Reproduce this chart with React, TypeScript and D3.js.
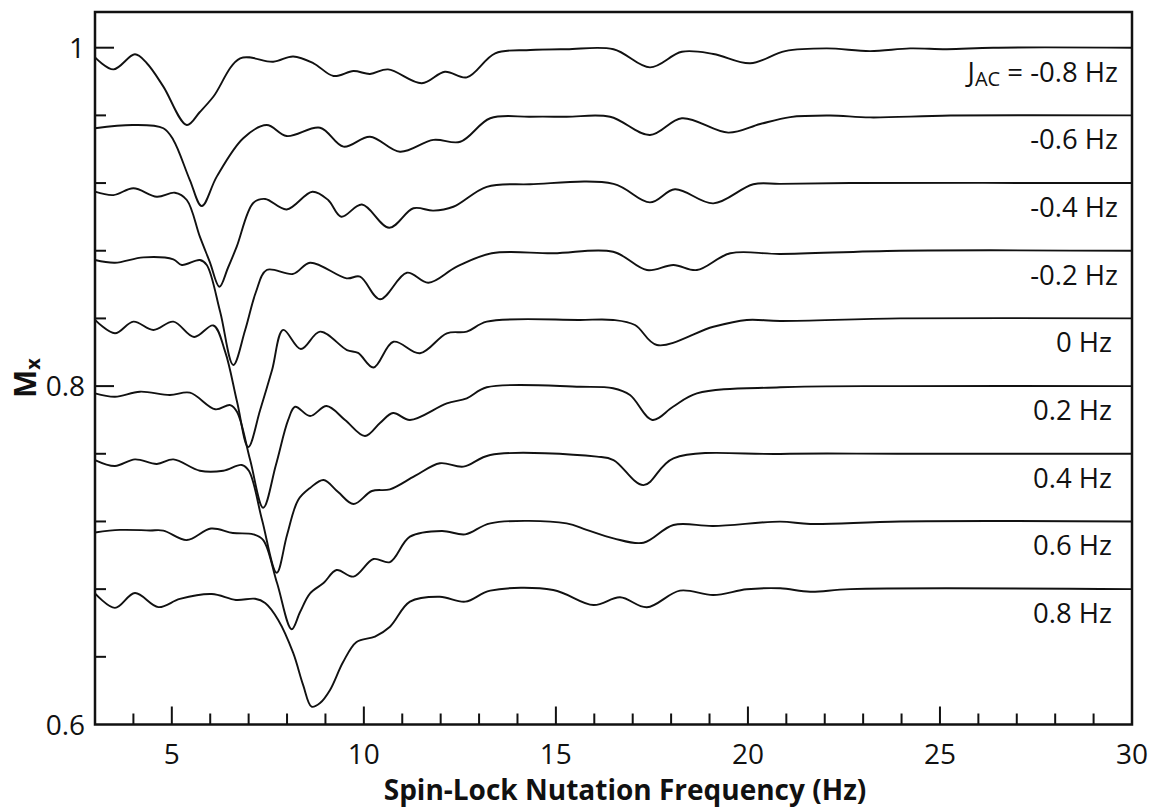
import React from "react";
import * as d3 from "d3";

// ---- data: [Spin-lock nutation frequency (Hz), Mx] ----
const curveJm08: [number, number][] = [
  [3.0, 0.9943], [3.48, 0.9872], [4.04, 0.9961], [4.35, 0.9908], [4.78, 0.977], [5.39, 0.9543],
  [5.73, 0.962], [6.08, 0.971], [6.78, 0.9937], [7.64, 0.9917], [8.16, 0.9948], [8.69, 0.9908],
  [9.21, 0.9833], [9.73, 0.9862], [10.16, 0.9845], [10.63, 0.9872], [11.51, 0.979], [12.11, 0.9858],
  [12.68, 0.9825], [13.42, 0.9967], [14.33, 0.9986], [15.28, 0.9991], [16.5, 0.9991], [17.45, 0.9884],
  [18.28, 0.9976], [19.1, 0.9963], [20.06, 0.9908], [20.97, 0.998], [22.05, 0.9996], [23.18, 0.998],
  [24.22, 0.9996], [25.18, 0.9991], [26.39, 1.0], [30, 1.0],
];
const curveJm06: [number, number][] = [
  [3.0, 0.9524], [4.0, 0.9543], [4.78, 0.9524], [5.04, 0.9455], [5.47, 0.9218], [5.78, 0.9064],
  [6.17, 0.9238], [6.86, 0.9465], [7.47, 0.9543], [7.99, 0.9478], [8.86, 0.9527], [9.47, 0.9415],
  [10.16, 0.9474], [10.94, 0.9385], [11.81, 0.9455], [12.51, 0.9444], [13.29, 0.9583], [14.33, 0.9592],
  [15.28, 0.9592], [16.41, 0.9592], [17.45, 0.9484], [18.28, 0.9583], [19.49, 0.9498], [20.32, 0.9549],
  [21.1, 0.959], [22.14, 0.9599], [23.18, 0.9588], [25.27, 0.9599], [30, 0.96],
];
const curveJm04: [number, number][] = [
  [3.0, 0.9149], [3.48, 0.9129], [4.0, 0.9169], [4.61, 0.9119], [5.08, 0.9143], [5.39, 0.91],
  [5.73, 0.8883], [5.99, 0.8733], [6.24, 0.8587], [6.46, 0.8698], [6.69, 0.8824], [7.12, 0.9082],
  [7.43, 0.9106], [7.99, 0.9044], [8.66, 0.9149], [9.07, 0.91], [9.41, 0.9001], [9.95, 0.9073],
  [10.66, 0.8936], [11.29, 0.9051], [11.81, 0.9037], [12.33, 0.906], [13.2, 0.9178], [14.33, 0.9193],
  [16.5, 0.9195], [17.45, 0.9086], [18.1, 0.9163], [19.1, 0.908], [20.14, 0.9193], [20.84, 0.9195],
  [22.66, 0.92], [30, 0.92],
];
const curveJm02: [number, number][] = [
  [3.0, 0.8745], [3.52, 0.8729], [4.26, 0.8761], [5.04, 0.8749], [5.26, 0.8716], [5.73, 0.8745],
  [5.91, 0.8716], [6.26, 0.8438], [6.6, 0.8125], [6.91, 0.8332], [7.19, 0.8556], [7.47, 0.8686],
  [8.16, 0.8663], [8.6, 0.8729], [9.55, 0.8637], [9.9, 0.8647], [10.42, 0.8513], [11.12, 0.867],
  [11.68, 0.8611], [12.42, 0.8706], [13.33, 0.8785], [14.93, 0.8785], [16.49, 0.8794], [17.37, 0.8686],
  [18.06, 0.8716], [18.67, 0.8686], [19.54, 0.8785], [20.84, 0.8781], [23.96, 0.88], [30, 0.88],
];
const curveJ00: [number, number][] = [
  [3.0, 0.8391], [3.52, 0.8312], [4.0, 0.8381], [4.52, 0.8332], [5.04, 0.8381], [5.58, 0.829],
  [6.08, 0.8358], [6.39, 0.8202], [6.7, 0.7906], [6.99, 0.764], [7.3, 0.7859], [7.61, 0.8095],
  [7.9, 0.8332], [8.36, 0.8219], [8.86, 0.8322], [9.56, 0.8213], [9.85, 0.8196], [10.25, 0.811],
  [10.77, 0.8262], [11.46, 0.8194], [12.16, 0.8312], [12.68, 0.8322], [13.2, 0.8381], [15.63, 0.8391],
  [16.49, 0.8391], [17.06, 0.8361], [17.63, 0.8243], [19.1, 0.8351], [19.97, 0.8391], [20.84, 0.8385],
  [23.96, 0.84], [30, 0.84],
];
const curveJp02: [number, number][] = [
  [3.0, 0.7957], [3.52, 0.7937], [4.17, 0.7967], [4.95, 0.7947], [5.47, 0.7961], [6.13, 0.7863],
  [6.52, 0.7888], [6.7, 0.7847], [7.04, 0.7563], [7.38, 0.7281], [7.71, 0.7534], [8.03, 0.78],
  [8.21, 0.7878], [8.6, 0.7823], [9.03, 0.7882], [9.51, 0.78], [10.03, 0.7705], [10.42, 0.7782],
  [10.76, 0.7841], [11.2, 0.78], [12.16, 0.7898], [12.68, 0.7928], [13.2, 0.7993], [15.63, 0.7996],
  [16.49, 0.7987], [16.93, 0.7947], [17.51, 0.78], [18.05, 0.7878], [18.67, 0.7957], [20.84, 0.7993],
  [23.96, 0.8], [30, 0.8],
];
const curveJp04: [number, number][] = [
  [3.0, 0.7563], [3.52, 0.7528], [4.04, 0.7567], [4.61, 0.754], [5.04, 0.7567], [5.73, 0.75],
  [6.34, 0.75], [6.82, 0.7534], [7.01, 0.7498], [7.35, 0.7209], [7.73, 0.6897], [8.0, 0.712],
  [8.29, 0.7327], [8.6, 0.7398], [8.95, 0.7445], [9.33, 0.7374], [9.73, 0.7303], [10.21, 0.738],
  [10.68, 0.739], [11.33, 0.7469], [11.98, 0.7544], [12.59, 0.7524], [13.29, 0.7593], [16.07, 0.7583],
  [16.5, 0.7563], [17.28, 0.7415], [18.06, 0.7573], [20.84, 0.7599], [23.96, 0.76], [30, 0.76],
];
const curveJp06: [number, number][] = [
  [3.0, 0.7135], [3.65, 0.715], [4.43, 0.7147], [4.78, 0.7146], [5.39, 0.709], [6.02, 0.7158],
  [6.59, 0.7132], [7.12, 0.7124], [7.38, 0.709], [7.74, 0.6836], [8.12, 0.6563], [8.34, 0.6665],
  [8.6, 0.6775], [8.95, 0.6836], [9.29, 0.6913], [9.73, 0.6874], [10.25, 0.6978], [10.68, 0.696],
  [11.2, 0.711], [12.03, 0.7144], [12.64, 0.7124], [13.29, 0.7189], [15.28, 0.7189], [15.8, 0.715],
  [16.5, 0.71], [17.28, 0.7074], [18.06, 0.7179], [19.1, 0.7173], [20.84, 0.7199], [21.62, 0.7185],
  [23.96, 0.72], [30, 0.72],
];
const curveJp08: [number, number][] = [
  [3.0, 0.6775], [3.52, 0.6689], [4.04, 0.6777], [4.65, 0.6694], [5.21, 0.6742], [6.04, 0.6771],
  [6.67, 0.6736], [7.17, 0.6743], [7.43, 0.6718], [7.77, 0.6618], [8.16, 0.6423], [8.42, 0.6233],
  [8.64, 0.6105], [8.86, 0.6127], [9.12, 0.6204], [9.46, 0.6369], [9.81, 0.6488], [10.29, 0.652],
  [10.68, 0.6578], [11.2, 0.6726], [11.98, 0.6755], [12.64, 0.6726], [13.29, 0.6791], [14.93, 0.6795],
  [15.98, 0.6706], [16.67, 0.6752], [17.37, 0.6693], [18.23, 0.6791], [19.1, 0.6765], [19.97, 0.6799],
  [20.84, 0.6805], [21.62, 0.6785], [22.66, 0.68], [30, 0.68],
];

const seriesList = [curveJm08, curveJm06, curveJm04, curveJm02, curveJ00, curveJp02, curveJp04, curveJp06, curveJp08];
const couplingLabels = ["-0.8 Hz", "-0.6 Hz", "-0.4 Hz", "-0.2 Hz", "0 Hz", "0.2 Hz", "0.4 Hz", "0.6 Hz", "0.8 Hz"];
const labelBaselines = [1.0, 0.96, 0.92, 0.88, 0.84, 0.8, 0.76, 0.72, 0.68];

const xMajorTicks = [5, 10, 15, 20, 25, 30];
const xMinorTicks = d3.range(4, 30).filter((v) => v % 5 !== 0);
const yMajorTicks = [0.6, 0.8, 1.0];
const yMinorTicks = [0.64, 0.68, 0.72, 0.76, 0.84, 0.88, 0.92, 0.96];

const W = 1152;
const H = 809;
const PL = 95, PR = 1132, PT = 12, PB = 724.5;
const FONT = "'Open Sans', 'DejaVu Sans', sans-serif";

export default function App() {
  const x = d3.scaleLinear().domain([3, 30]).range([PL, PR]);
  const y = d3.scaleLinear().domain([0.6, 1.0211]).range([PB, PT]);
  const line = d3
    .line<[number, number]>()
    .x((d) => x(d[0]))
    .y((d) => y(d[1]))
    .curve(d3.curveCatmullRom.alpha(0.5));

  return (
    <svg
      width={W}
      height={H}
      viewBox={`0 0 ${W} ${H}`}
      style={{ position: "absolute", left: 0, top: 0, background: "#fff" }}
      fontFamily={FONT}
    >
      <rect x={0} y={0} width={W} height={H} fill="#fff" />
      {/* curves */}
      <g fill="none" stroke="#111" strokeWidth={1.9} strokeLinejoin="round">
        {seriesList.map((s, i) => (
          <path key={i} d={line(s) || ""} />
        ))}
      </g>
      {/* ticks (inside) */}
      <g stroke="#111" strokeWidth={2}>
        {xMajorTicks.filter((t) => t < 30).map((t) => (
          <line key={"xM" + t} x1={x(t)} x2={x(t)} y1={PB} y2={PB - 18} />
        ))}
        {xMinorTicks.map((t) => (
          <line key={"xm" + t} x1={x(t)} x2={x(t)} y1={PB} y2={PB - 11} />
        ))}
        {yMajorTicks.filter((t) => t > 0.6).map((t) => (
          <line key={"yM" + t} x1={PL} x2={PL + 19} y1={y(t)} y2={y(t)} />
        ))}
        {yMinorTicks.map((t) => (
          <line key={"ym" + t} x1={PL} x2={PL + 11} y1={y(t)} y2={y(t)} />
        ))}
      </g>
      {/* frame */}
      <rect x={PL} y={PT} width={PR - PL} height={PB - PT} fill="none" stroke="#111" strokeWidth={2.5} />
      {/* tick labels */}
      <g fontSize={28} fill="#111">
        {xMajorTicks.map((t) => (
          <text key={"xl" + t} x={x(t)} y={764} textAnchor="middle">
            {t}
          </text>
        ))}
        {yMajorTicks.map((t) => (
          <text key={"yl" + t} x={85} y={y(t) + 10} textAnchor="end">
            {t === 1 ? "1" : t.toFixed(1)}
          </text>
        ))}
      </g>
      {/* series labels */}
      <g fontSize={27.5} fill="#111">
        {couplingLabels.map((lab, i) => {
          const neg = lab.startsWith("-");
          const xr = neg ? 1118 : 1112;
          const yb = y(labelBaselines[i]) + 34;
          if (i === 0) {
            return (
              <text key={lab} x={xr} y={yb} textAnchor="end">
                <tspan>J</tspan>
                <tspan fontSize={20} dy={4}>AC</tspan>
                <tspan dy={-4}>{" = " + lab}</tspan>
              </text>
            );
          }
          return (
            <text key={lab} x={xr} y={yb} textAnchor="end">
              {lab}
            </text>
          );
        })}
      </g>
      {/* axis titles */}
      <text x={625} y={800} textAnchor="middle" fontSize={28} fontWeight="bold" fill="#111">
        Spin-Lock Nutation Frequency (Hz)
      </text>
      <text transform="translate(36,378) rotate(-90)" textAnchor="middle" fontSize={30} fontWeight="bold" fill="#111">
        <tspan>M</tspan>
        <tspan fontSize={20} dy={4}>x</tspan>
      </text>
    </svg>
  );
}
